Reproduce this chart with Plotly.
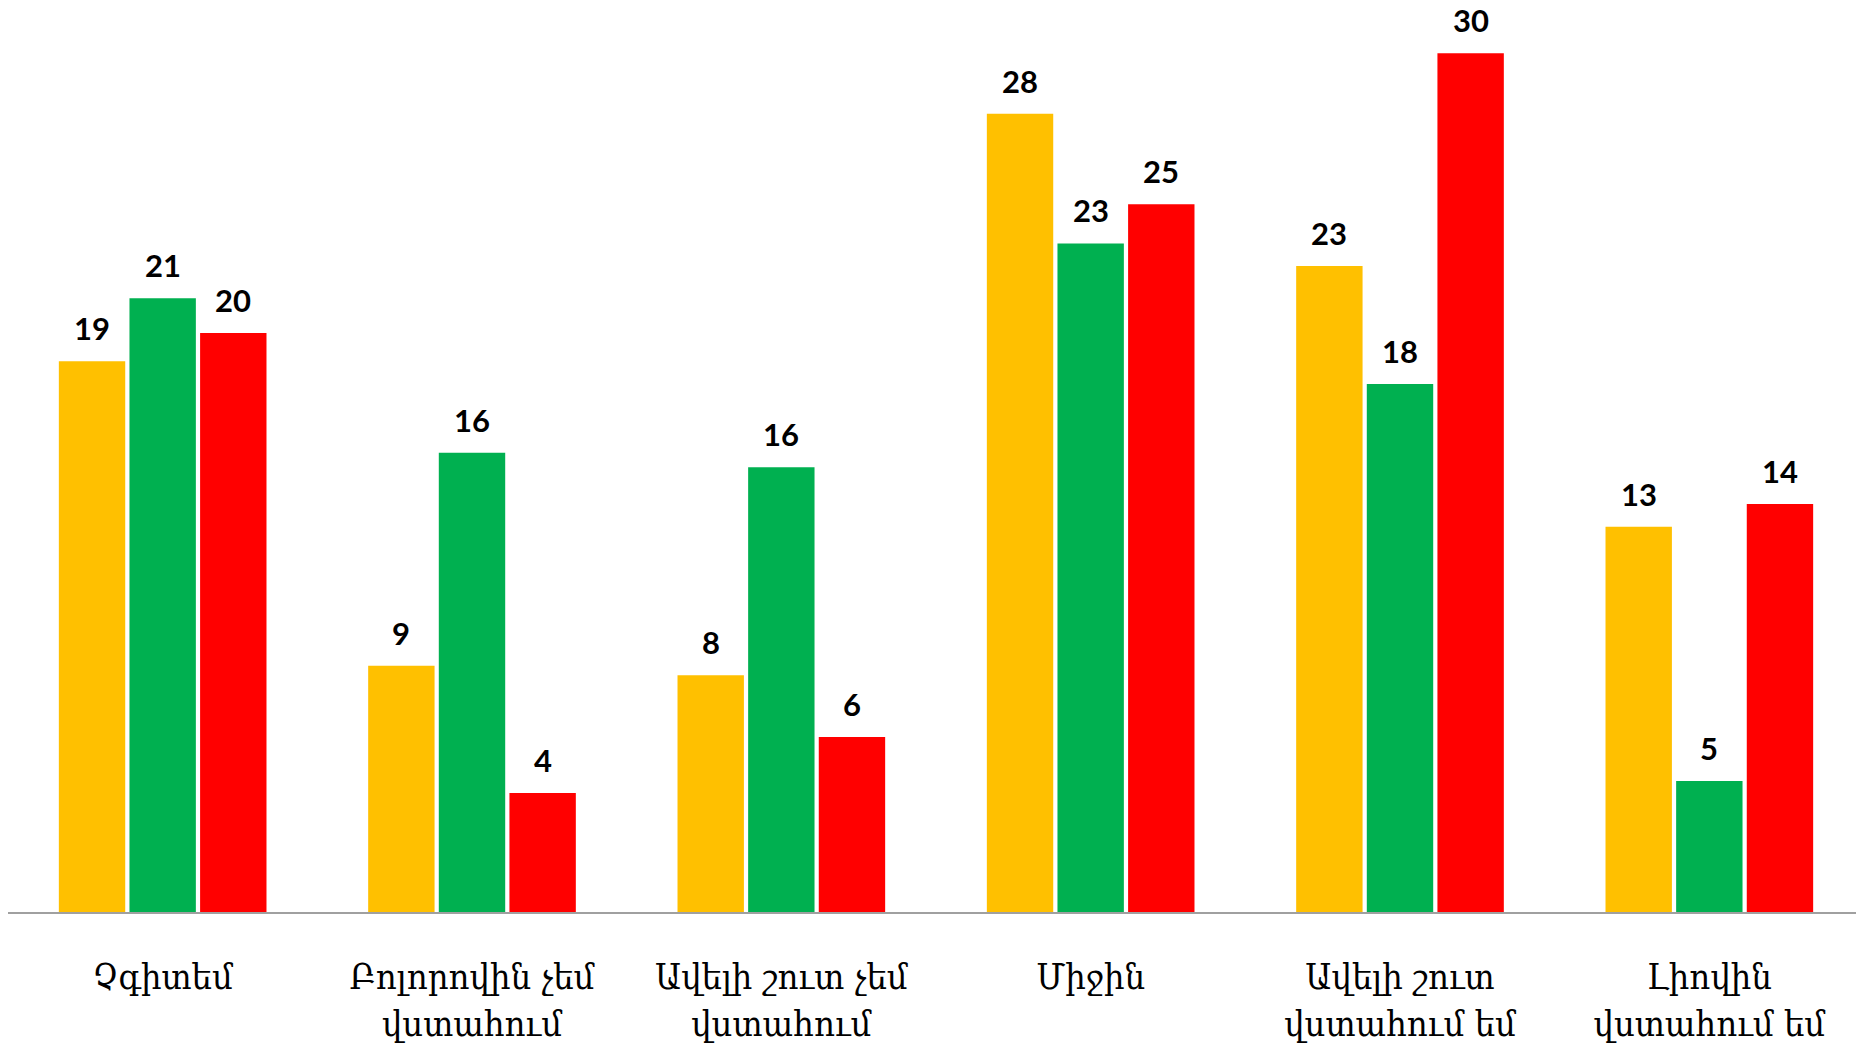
import plotly.graph_objects as go

categories = ["Չգիտեմ", "Բոլորովին չեմ<br>վստահում", "Ավելի շուտ չեմ<br>վստահում",
              "Միջին", "Ավելի շուտ<br>վստահում եմ", "Լիովին<br>վստահում եմ"]
series_names = ["Series 1", "Series 2", "Series 3"]
yellow_vals = [19.25, 8.61, 8.28, 27.9, 22.58, 13.47]
green_vals = [21.45, 16.05, 15.55, 23.37, 18.46, 4.58]
red_vals = [20.24, 4.16, 6.12, 24.74, 30.02, 14.26]
colors = ["#FFC000", "#00B050", "#FF0000"]

W, H = 1856, 1037
ML, MR, MT, MB = 0, 0, 0, 133
BARGAP, GROUPGAP = 0.315, 0.06
YMAX = 31.6

fig = go.Figure()
all_vals = [yellow_vals, green_vals, red_vals]
for name, vals, col in zip(series_names, all_vals, colors):
    fig.add_trace(go.Bar(x=categories, y=vals, name=name, marker_color=col,
                         marker_line_width=0))

slot = (W - ML - MR) / len(categories)
step = slot * (1 - BARGAP) / 3
for i, vals in enumerate(all_vals):
    for c, v in zip(categories, vals):
        fig.add_annotation(x=c, y=v, text=f"<b>{round(v)}</b>", showarrow=False,
                           xshift=(i - 1) * step, yshift=13, yanchor="bottom",
                           borderpad=0,
                           font=dict(family="Lato", size=31, color="#000000"))

fig.update_layout(
    width=W, height=H, barmode="group", bargap=BARGAP, bargroupgap=GROUPGAP,
    margin=dict(l=ML, r=MR, t=MT, b=MB), showlegend=False,
    plot_bgcolor="white", paper_bgcolor="white",
    xaxis=dict(showline=True, linecolor="#A0A0A0", linewidth=2, ticks="",
               tickfont=dict(family="DejaVu Serif Condensed", size=36, color="#000000"),
               ticklabelstandoff=32),
    yaxis=dict(range=[0, YMAX], visible=False, showgrid=False, zeroline=False),
)
fig.write_html("out.html")
